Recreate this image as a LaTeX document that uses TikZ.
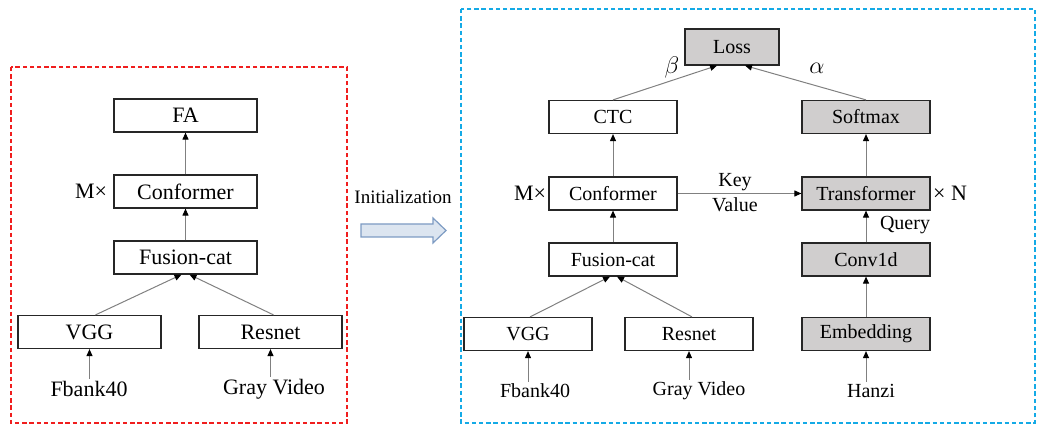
\documentclass[tikz,border=0pt]{standalone}
\usepackage{fontspec}
\setmainfont{Liberation Serif}
\usetikzlibrary{arrows.meta}

\definecolor{redframe}{RGB}{240,30,30}
\definecolor{blueframe}{RGB}{20,170,230}
\definecolor{boxgray}{RGB}{208,206,206}
\definecolor{initfill}{RGB}{220,229,240}
\definecolor{initdraw}{RGB}{125,155,195}

\begin{document}
\begin{tikzpicture}[x=0.5pt, y=-0.5pt,
  blk/.style={draw=black!85, line width=0.6pt, inner sep=0pt,
    minimum width=64pt, minimum height=16.5pt, font=\fontsize{10}{12}\selectfont},
  wideblk/.style={blk, minimum width=71.5pt, font=\fontsize{11}{13}\selectfont},
  shaded/.style={blk, fill=boxgray},
  lbl/.style={inner sep=1pt, font=\fontsize{10}{12}\selectfont},
  widelbl/.style={lbl, font=\fontsize{11}{13}\selectfont},
  greek/.style={lbl, font=\fontsize{12.5}{14}\selectfont},
  flow/.style={draw=black!50, line width=0.5pt, -{Triangle[black,length=3.5pt,width=3pt]}},
  frame/.style={line width=0.6pt, dash pattern=on 2.2pt off 1.4pt}]

\useasboundingbox (0,0) rectangle (1037,426);

%─────────────
% Frames
%─────────────
\draw[frame, redframe] (11,67) rectangle (347,423);
\draw[frame, blueframe] (461,9) rectangle (1035,423);

%─────────────
% Pre-training (left)
%─────────────
\node[wideblk] (lfa)   at (185.5,115.5) {FA};
\node[wideblk] (lconf) at (185.5,191.5) {Conformer};
\node[wideblk] (lfus)  at (185.5,257.5) {Fusion-cat};
\node[wideblk] (lvgg)  at (89.5,332) {VGG};
\node[wideblk] (lres)  at (270.5,332) {Resnet};
\node[widelbl] (lfbank) at (89,389) {Fbank40};
\node[widelbl] (lgray)  at (274,389) {Gray Video};
\node[widelbl] (lmx)    at (91,191.5) {M×};

\draw[flow] (lconf) -- (lfa);
\draw[flow] (lfus) -- (lconf);
\draw[flow] ([xshift=3pt]lvgg.north) -- ([xshift=-2pt]lfus.south);
\draw[flow] ([xshift=1.5pt]lres.north) -- ([xshift=2pt]lfus.south);
\draw[flow] (lfbank.north -| lvgg.south) -- (lvgg.south);
\draw[flow] (lgray.north -| lres.south) -- (lres.south);

%─────────────
% Initialization arrow
%─────────────
\node[lbl, font=\fontsize{9.5}{11}\selectfont] (init) at (403,197) {Initialization};
\filldraw[fill=initfill, draw=initdraw, line width=0.6pt]
  (361,224) -- (433,224) -- (433,218) -- (446,230.5) -- (433,243)
  -- (433,237) -- (361,237) -- cycle;

%─────────────
% Fine-tuning (right)
%─────────────
\node[shaded, minimum width=47pt, minimum height=18pt] (loss) at (732,47) {Loss};
\node[blk]    (ctc)   at (613,117) {CTC};
\node[shaded] (soft)  at (866,117) {Softmax};
\node[blk]    (rconf) at (613,193.5) {Conformer};
\node[shaded] (trans) at (866,193.5) {Transformer};
\node[blk]    (rfus)  at (613,259.5) {Fusion-cat};
\node[shaded] (conv)  at (866,259.5) {Conv1d};
\node[blk]    (rvgg)  at (528,334) {VGG};
\node[blk]    (rres)  at (689,334) {Resnet};
\node[shaded] (emb)   at (866,334) {Embedding};

\node[lbl] (rfbank) at (535,391) {Fbank40};
\node[lbl] (rgray)  at (699,391) {Gray Video};
\node[lbl] (hanzi)  at (871,391) {Hanzi};
\node[widelbl] (rmx) at (530,193.5) {M×};
\node[widelbl] (nx)  at (950,193.5) {× N};
\node[lbl] (key)    at (735,182) {Key};
\node[lbl] (value)  at (735,205) {Value};
\node[lbl] (query)  at (905,225) {Query};
\node[greek] (beta)  at (672,68) {$\beta$};
\node[greek] (alpha) at (817,68) {$\alpha$};

\draw[flow] (ctc.north) -- ([xshift=-7.5pt]loss.south);
\draw[flow] (soft.north) -- ([xshift=6.5pt]loss.south);
\draw[flow] (rconf) -- (ctc);
\draw[flow] (trans) -- (soft);
\draw[flow] (rconf) -- (trans);
\draw[flow] (rfus) -- (rconf);
\draw[flow] (conv) -- (trans);
\draw[flow] (emb) -- (conv);
\draw[flow] ([xshift=1pt]rvgg.north) -- ([xshift=-1.5pt]rfus.south);
\draw[flow] ([xshift=1.5pt]rres.north) -- ([xshift=2pt]rfus.south);
\draw[flow] (rfbank.north -| rvgg.south) -- (rvgg.south);
\draw[flow] (rgray.north -| rres.south) -- (rres.south);
\draw[flow] (hanzi.north -| emb.south) -- (emb.south);

\end{tikzpicture}
\end{document}
